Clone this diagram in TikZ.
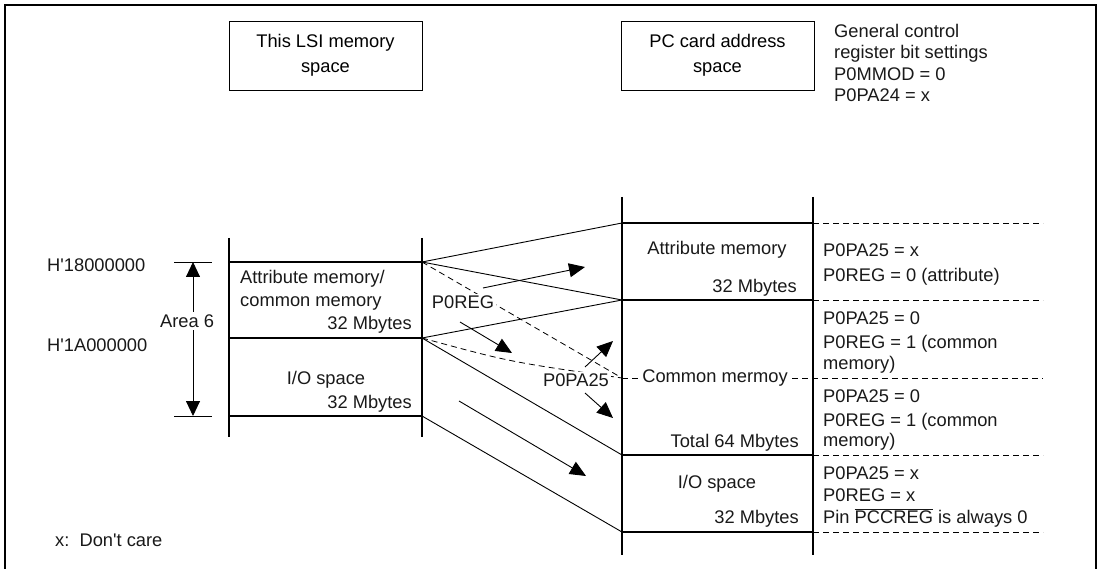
\documentclass[tikz,border=0pt]{standalone}
\usepackage{fontspec}
\setmainfont{Liberation Sans}[Ligatures=TeXOff]
\usetikzlibrary{arrows.meta}
\begin{document}
\begin{tikzpicture}[x=1pt,y=-1pt,
  txt/.style={inner sep=0pt, font=\fontsize{18.3}{22}\selectfont, text=black!90},
  lbl/.style={txt, fill=white, inner sep=2pt},
  frameline/.style={line width=2pt},
  colline/.style={line width=1.8pt},
  thinline/.style={line width=0.9pt},
  dsh/.style={line width=0.8pt, dash pattern=on 6pt off 4pt},
  arr/.style={thinline, -{Triangle[length=16pt,width=14pt]}},
  hbox/.style={draw, line width=0.9pt, minimum width=193pt, minimum height=69pt, inner sep=0pt, align=center, font=\fontsize{18.3}{25}\selectfont}
]
\useasboundingbox (0,0) rectangle (1100,569);
% frame
\draw[frameline] (5,569) -- (5,5) -- (1096,5) -- (1096,569);

% header boxes
\node[hbox] (hb1) at (325.5,55.5) {This LSI memory\\space};
\node[hbox] (hb2) at (717.5,55.5) {PC card address\\space};
\node[txt, anchor=base west] (g1) at (834,37.5) {General control};
\node[txt, anchor=base west] (g2) at (834,58.5) {register bit settings};
\node[txt, anchor=base west] (g3) at (834,80.5) {P0MMOD = 0};
\node[txt, anchor=base west] (g4) at (834,101.5) {P0PA24 = x};

% coordinates
\coordinate (L1) at (422,262);
\coordinate (L2) at (422,338);
\coordinate (L3) at (422,416);
\coordinate (R0) at (622,223);
\coordinate (R1) at (622,300);
\coordinate (Rm) at (622,378);
\coordinate (R2) at (622,455);
\coordinate (R3) at (622,532);

% left column
\draw[colline] (229,238) -- (229,437);
\draw[colline] (422,238) -- (422,437);
\draw[colline] (229,262) -- (L1);
\draw[colline] (229,338) -- (L2);
\draw[colline] (229,416) -- (L3);

% right column
\draw[colline] (622,197) -- (622,555);
\draw[colline] (813,197) -- (813,555);
\draw[colline] (R0) -- (813,223);
\draw[colline] (R1) -- (813,300);
\draw[colline] (R2) -- (813,455);
\draw[colline] (R3) -- (813,532);

% dashed separators on the right
\draw[dsh] (813,223) -- (1043,223);
\draw[dsh] (813,300) -- (1043,300);
\draw[dsh] (Rm) -- (1043,378);
\draw[dsh] (813,455) -- (1043,455);
\draw[dsh] (813,532) -- (1043,532);

% mapping lines
\draw[thinline] (L1) -- (R0);
\draw[thinline] (L1) -- (R1);
\draw[thinline] (L2) -- (R1);
\draw[thinline] (L2) -- (R2);
\draw[thinline] (L3) -- (R3);
\draw[dsh] (L1) -- (Rm);
\draw[dsh] (L2) .. controls (510,362) .. (Rm);

% arrows
\coordinate (a1s) at (483,288); \coordinate (a1e) at (585,267);
\coordinate (a2s) at (460,322); \coordinate (a2e) at (512,353);
\coordinate (a3s) at (585,367); \coordinate (a3e) at (613,341);
\coordinate (a4s) at (585,393); \coordinate (a4e) at (613,418);
\coordinate (a5s) at (459,401); \coordinate (a5e) at (586,476);
\draw[arr] (a1s) -- (a1e);
\draw[arr] (a2s) -- (a2e);
\draw[arr] (a3s) -- (a3e);
\draw[arr] (a4s) -- (a4e);
\draw[arr] (a5s) -- (a5e);

\node[lbl] (p0reg) at (463,302) {P0REG};
\node[lbl] (p0pa25) at (576,380) {P0PA25};

% Area 6 dimension
\draw[thinline] (174,262) -- (212,262);
\draw[thinline] (174,416) -- (212,416);
\coordinate (ar1) at (193,262);
\coordinate (ar2) at (193,416);
\draw[thinline, {Triangle[length=15pt,width=14pt]}-{Triangle[length=15pt,width=14pt]}] (ar1) -- (ar2);
\node[lbl, inner sep=3pt] (area) at (187,321) {Area 6};
\node[txt, anchor=base west] (h18) at (47,272) {H'18000000};
\node[txt, anchor=base west] (h1a) at (47,351.5) {H'1A000000};

% left column texts
\node[txt, anchor=base west] (lt1) at (240,283.5) {Attribute memory/};
\node[txt, anchor=base west] (lt2) at (240,306.5) {common memory};
\node[txt, anchor=base east] (lt3) at (412,329.5) {32 Mbytes};
\node[txt, anchor=base] (lt4) at (326,384.5) {I/O space};
\node[txt, anchor=base east] (lt5) at (412,408.5) {32 Mbytes};

% right column texts
\node[txt, anchor=base] (rt1) at (717,254.5) {Attribute memory};
\node[txt, anchor=base east] (rt2) at (797,292.5) {32 Mbytes};
\node[lbl] (rt3) at (715,378) {Common mermoy};
\node[txt, anchor=base east] (rt4) at (799,447.5) {Total 64 Mbytes};
\node[txt, anchor=base] (rt5) at (717,488.5) {I/O space};
\node[txt, anchor=base east] (rt6) at (799,523.5) {32 Mbytes};

% settings texts
\node[txt, anchor=base west] (s1) at (823,256.5) {P0PA25 = x};
\node[txt, anchor=base west] (s2) at (823,281.5) {P0REG = 0 (attribute)};
\node[txt, anchor=base west] (s3) at (823,324.5) {P0PA25 = 0};
\node[txt, anchor=base west] (s4) at (823,348.5) {P0REG = 1 (common};
\node[txt, anchor=base west] (s5) at (823,369.5) {memory)};
\node[txt, anchor=base west] (s6) at (823,402.5) {P0PA25 = 0};
\node[txt, anchor=base west] (s7) at (823,426.5) {P0REG = 1 (common};
\node[txt, anchor=base west] (s8) at (823,446.5) {memory)};
\node[txt, anchor=base west] (s9) at (823,479.5) {P0PA25 = x};
\node[txt, anchor=base west] (s10) at (823,501.5) {P0REG = x};
\node[txt, anchor=base west] (s11) at (823,523.5) {Pin \(\overline{\hbox{PCCREG}}\) is always 0};

\node[txt, anchor=base west] (dc) at (55,546.5) {x:\ \ Don't care};
\end{tikzpicture}
\end{document}
